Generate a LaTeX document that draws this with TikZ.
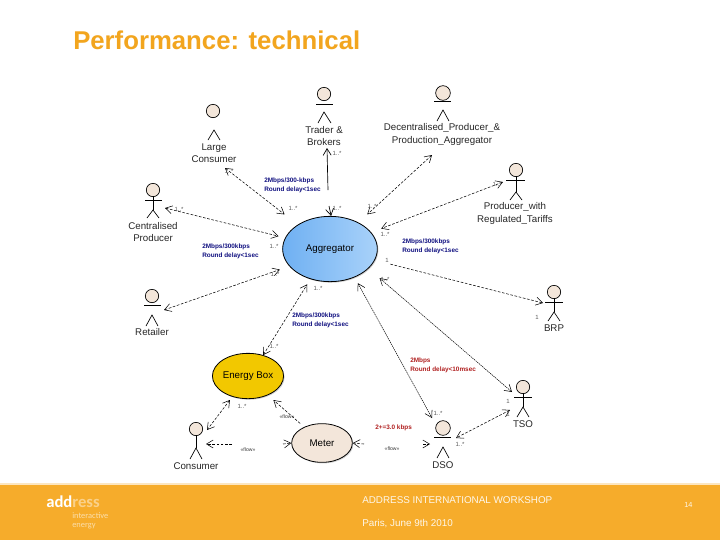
\documentclass[tikz,border=0pt]{standalone}
\usepackage{fontspec}
\setmainfont{Liberation Sans}
\newfontfamily\logofont{Carlito}
\usetikzlibrary{shapes.geometric,arrows.meta,shadows}
\definecolor{bandorange}{HTML}{F6AC2B}
\definecolor{titleorange}{HTML}{F2A51E}
\definecolor{skin}{HTML}{F3E6DA}
\definecolor{speedblue}{HTML}{101080}
\definecolor{speedred}{HTML}{B02020}
\definecolor{agLeft}{HTML}{6FB0F2}
\definecolor{agRight}{HTML}{A9D2FA}
\definecolor{boxyellow}{HTML}{F2C800}
\tikzset{
  head/.style={circle,draw,fill=skin,line width=.5pt,inner sep=0pt,minimum size=#1},
  limb/.style={line width=.5pt},
  actorname/.style={align=center,font=\fontsize{7.3}{9.4}\selectfont,text=black!85,inner sep=0pt},
  usecase/.style={ellipse,draw,line width=.6pt,inner sep=0pt,font=\fontsize{7.3}{9}\selectfont,
    drop shadow={opacity=.35,shadow xshift=.8pt,shadow yshift=-.8pt}},
  link/.style={line width=.4pt,dash pattern=on 2pt off 1.2pt,>={Straight Barb[length=5pt,width=6pt]}},
  fineline/.style={link,dash pattern=on 1pt off .6pt},
  solidlink/.style={line width=.5pt,>={Straight Barb[length=5pt,width=6pt]}},
  multi/.style={font=\fontsize{4.5}{4.5}\selectfont,text=black!65,inner sep=0pt},
  flow/.style={font=\fontsize{3.8}{4}\selectfont,text=black!80,inner sep=0pt},
  speed/.style={align=left,anchor=west,font=\bfseries\fontsize{4.8}{6.8}\selectfont,inner sep=0pt},
  footer/.style={anchor=west,text=white!90!bandorange,inner sep=0pt,font=\fontsize{7.4}{8}\selectfont}
}
\begin{document}
\begin{tikzpicture}[x=0.75pt,y=-0.75pt]
  \useasboundingbox (0,0) rectangle (720,540);
  \node[anchor=west,inner sep=0pt,text=titleorange,font=\bfseries\fontsize{19.3}{21}\selectfont] (title) at (73,40) {Performance: technical};
  % use cases
  \node[usecase,minimum width=71pt,minimum height=49pt,left color=agLeft,right color=agRight] (aggregator) at (330,249) {Aggregator};
  \node[usecase,minimum width=52.5pt,minimum height=34pt,fill=boxyellow] (energybox) at (248,376) {Energy Box};
  \node[usecase,minimum width=45.5pt,minimum height=29pt,fill=skin] (meter) at (322,443) {Meter};
  % large consumer
  \node[head=10pt] (lcHead) at (213,111) {};
  \draw[limb] (208,140) -- (214,130) -- (220,140);
  \node[actorname] (lcName) at (214,153) {Large\\Consumer};
  \coordinate (lcPort) at (225,168);
  % trader
  \node[head=10pt] (trHead) at (324,94) {};
  \draw[limb] (316,104) -- (333,104);
  \draw[limb] (318,123) -- (324,112) -- (331,123);
  \node[actorname] (trName) at (324,136) {Trader \&\\Brokers};
  \coordinate (trPort) at (327,148);
  \coordinate (trGapA) at (328,190);
  \coordinate (trGapB) at (329,206);
  % decentralised producer
  \node[head=11pt] (dpHead) at (443,93) {};
  \draw[limb] (434,101) -- (451,101);
  \draw[limb] (437,121) -- (443,110) -- (449,121);
  \node[actorname] (dpName) at (442,134.5) {Decentralised\_Producer\_\&\\Production\_Aggregator};
  \coordinate (dpPort) at (432,155);
  % producer with tariffs
  \node[head=10pt] (ptHead) at (516,170) {};
  \draw[limb] (506,180) -- (525,180);
  \draw[limb] (516,176) -- (516,192);
  \draw[limb] (510,200) -- (516,192) -- (522,200);
  \node[actorname] (ptName) at (515,213.5) {Producer\_with\\Regulated\_Tariffs};
  \coordinate (ptPort) at (503,182);
  % centralised producer
  \node[head=10pt] (cpHead) at (153,190) {};
  \draw[limb] (145,200) -- (162,200);
  \draw[limb] (153,196) -- (153,210);
  \draw[limb] (147,218) -- (153,210) -- (159,218);
  \node[actorname] (cpName) at (153,232) {Centralised\\Producer};
  \coordinate (cpPort) at (165,208);
  % retailer
  \node[head=10pt] (reHead) at (152,296) {};
  \draw[limb] (144,305) -- (161,305);
  \draw[limb] (146,326) -- (152,315) -- (158,326);
  \node[actorname] (reName) at (152,332) {Retailer};
  \coordinate (rePort) at (164,310);
  % brp
  \node[head=10pt] (brHead) at (554,292) {};
  \draw[limb] (545,302) -- (563,302);
  \draw[limb] (554,298) -- (554,312);
  \draw[limb] (548,321) -- (554,312) -- (560,321);
  \node[actorname] (brName) at (554,328) {BRP};
  \coordinate (brPort) at (543,303);
  % tso
  \node[head=10pt] (tsHead) at (523,387) {};
  \draw[limb] (514,397) -- (532,397);
  \draw[limb] (523,393) -- (523,407);
  \draw[limb] (517,417) -- (523,407) -- (529,417);
  \node[actorname] (tsName) at (523,424) {TSO};
  \coordinate (tsPort) at (512,392);
  \coordinate (tsLow) at (510,410);
  % dso
  \node[head=11pt] (dsHead) at (443,428) {};
  \draw[limb] (434,437) -- (451,437);
  \draw[limb] (437,458) -- (443,447) -- (449,458);
  \node[actorname] (dsName) at (443,465) {DSO};
  \coordinate (dsPort) at (432,418);
  \coordinate (dsSide) at (456,438);
  \coordinate (dsLeft) at (430,444);
  \coordinate (dsStub) at (423,444);
  % consumer
  \node[head=10pt] (coHead) at (196,429) {};
  \draw[limb] (196,435) -- (196,448);
  \draw[limb] (190,459) -- (196,448) -- (202,459);
  \node[actorname] (coName) at (196,466) {Consumer};
  \coordinate (coPort) at (207,430);
  \coordinate (coSide) at (206,444);
  \coordinate (coStub) at (232,444);
  % free ends at the meter
  \coordinate (mtLeftStub) at (283,444);
  \coordinate (mtRightStub) at (364,444);
  % connectors
  \draw[link,<->,shorten >=12.5pt] (lcPort) -- (aggregator.143);
  \draw[solidlink,<-] (trPort) -- (trGapA);
  \draw[solidlink,->] (trGapB) -- (aggregator.88);
  \draw[link,<->,shorten >=5pt] (cpPort) -- (aggregator.166);
  \draw[link,<->,shorten >=9pt] (dpPort) -- (aggregator.43);
  \draw[link,<->,shorten >=8pt] (ptPort) -- (aggregator.22);
  \draw[link,<->,shorten >=7.5pt] (rePort) -- (aggregator.203);
  \draw[link,<->,shorten >=4.5pt] (energybox.54) -- (aggregator.237);
  \draw[link,<->,shorten <=3pt] (energybox.233) -- (coPort);
  \draw[link,->,shorten <=4pt,shorten >=5.5pt] (meter.138) -- (energybox.-44);
  \draw[link,->] (coStub) -- (coSide);
  \draw[link,->] (mtLeftStub) -- (meter.180);
  \draw[link,->] (dsStub) -- (dsLeft);
  \draw[link,->] (mtRightStub) -- (meter.0);
  \draw[link,->,shorten <=12pt] (aggregator.-14) -- (brPort);
  \draw[fineline,<->,shorten <=11pt] (aggregator.-27) -- (tsPort);
  \draw[fineline,<->,shorten <=5pt] (aggregator.-49) -- (dsPort);
  \draw[link,<->] (tsLow) -- (dsSide);
  % multiplicities
  \node[multi] (mA) at (229,171) {1..*};
  \node[multi] (mB) at (293,208) {1..*};
  \node[multi] (mC) at (337,153) {1..*};
  \node[multi] (mD) at (337,208) {1..*};
  \node[multi] (mE) at (179,209) {1..*};
  \node[multi] (mF) at (274,246) {1..*};
  \node[multi] (mG) at (372,206) {1..*};
  \node[multi] (mH) at (497,184) {1..*};
  \node[multi] (mI) at (385,234) {1..*};
  \node[multi] (mJ) at (275,274) {1..*};
  \node[multi] (mK) at (318,288) {1..*};
  \node[multi] (mL) at (274,346) {1..*};
  \node[multi] (mM) at (242,406) {1..*};
  \node[multi] (mN) at (438,413) {1..*};
  \node[multi] (mO) at (460,444) {1..*};
  \node[multi] (mP) at (385,279) {1..*};
  \node[multi] (mQ) at (387,260) {1};
  \node[multi] (mR) at (537,317) {1};
  \node[multi] (mS) at (508,401) {1};
  \node[multi] (mT) at (508,414) {1};
  % flows
  \node[flow] (flowA) at (287,417) {«flow»};
  \node[flow] (flowB) at (248,450) {«flow»};
  \node[flow] (flowC) at (392,449) {«flow»};
  % link speeds
  \node[speed,text=speedblue] (spA) at (264,185.5) {2Mbps/300-kbps\\Round delay<1sec};
  \node[speed,text=speedblue] (spB) at (202,251.5) {2Mbps/300kbps\\Round delay<1sec};
  \node[speed,text=speedblue] (spC) at (402,246.5) {2Mbps/300kbps\\Round delay<1sec};
  \node[speed,text=speedblue] (spD) at (292,320) {2Mbps/300kbps\\Round delay<1sec};
  \node[speed,text=speedred] (spE) at (410,365.5) {2Mbps\\Round delay<10msec};
  \node[speed,text=speedred] (spF) at (375,428) {2+=3.0 kbps};
  % footer
  \fill[bandorange] (0,484) rectangle (720,540);
  \fill[white!70!bandorange] (0,483) rectangle (720,484.5);
  \node[anchor=west,inner sep=0pt,font=\logofont\bfseries\fontsize{12.5}{14}\selectfont] (logo) at (46,502) {\textcolor{white}{add}\textcolor{white!45!bandorange}{ress}};
  \node[anchor=west,inner sep=0pt,align=left,text=white!60!bandorange,font=\logofont\fontsize{6.3}{6.6}\selectfont] (slogan) at (72,521) {interactive\\energy};
  \node[footer] (workshop) at (362,500) {ADDRESS INTERNATIONAL WORKSHOP};
  \node[footer] (place) at (362,524) {Paris, June 9th 2010};
  \node[footer,font=\fontsize{5.5}{6}\selectfont] (page) at (684,505) {14};
\end{tikzpicture}
\end{document}
